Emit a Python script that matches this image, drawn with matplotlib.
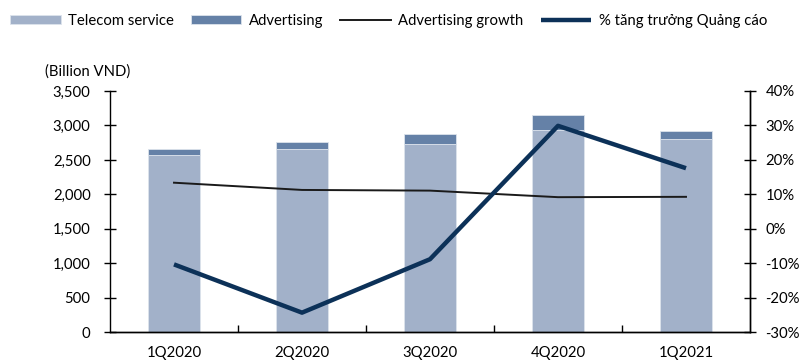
import matplotlib.pyplot as plt
from matplotlib.ticker import FuncFormatter, FixedLocator

plt.rcParams['font.family'] = ['Lato', 'DejaVu Sans']

quarters = ['1Q2020', '2Q2020', '3Q2020', '4Q2020', '1Q2021']
telecom = [2576, 2659, 2736, 2934, 2808]
advertising = [87, 106, 145, 222, 116]
ad_growth = [13.4, 11.3, 11.1, 9.2, 9.3]
ad_growth_vn = [-10.3, -24.3, -8.8, 29.9, 17.6]

c_telecom = '#a2b1c9'
c_ad = '#6581a7'
c_navy = '#0c3158'
fs = 10.7

fig = plt.figure(figsize=(8.04, 3.61), dpi=100)
ax = fig.add_axes([110 / 804, 1 - 332.3 / 361, 640 / 804, 241.3 / 361])
ax2 = ax.twinx()

x = list(range(len(quarters)))
b1 = ax.bar(x, telecom, width=0.4, color=c_telecom, edgecolor='#dde3ec', linewidth=0.6,
            label='Telecom service', zorder=2)
b2 = ax.bar(x, advertising, width=0.4, bottom=telecom, color=c_ad, edgecolor='#dde3ec',
            linewidth=0.6, label='Advertising', zorder=2)

l1, = ax2.plot(x, ad_growth, color='#1a1a1a', lw=1.4, label='Advertising growth')
l2, = ax2.plot(x, ad_growth_vn, color=c_navy, lw=3.2, label='% tăng trưởng Quảng cáo',
               solid_capstyle='butt')

ax.set_xlim(-0.5, 4.5)
ax.set_ylim(0, 3500)
ax2.set_ylim(-30, 40)
ax.set_yticks(range(0, 3501, 500))
ax2.set_yticks(range(-30, 41, 10))
ax.yaxis.set_major_formatter(FuncFormatter(lambda v, p: f'{int(v):,}'))
ax2.yaxis.set_major_formatter(FuncFormatter(lambda v, p: f'{int(v)}%'))

# category labels centered, tick marks on the category boundaries
ax.set_xticks(x)
ax.set_xticklabels(quarters)
ax.tick_params(axis='x', which='major', length=0, pad=10, labelsize=fs)
ax.xaxis.set_minor_locator(FixedLocator([0.5, 1.5, 2.5, 3.5]))
ax.tick_params(axis='x', which='minor', direction='in', length=5, width=1)

ax.tick_params(axis='y', direction='inout', length=8, width=1, pad=10, labelsize=fs)
ax2.tick_params(axis='y', direction='inout', length=8, width=1, pad=7, labelsize=fs)

for a in (ax, ax2):
    a.spines['top'].set_visible(False)
    for s in ('left', 'right', 'bottom'):
        a.spines[s].set_linewidth(1)
        a.spines[s].set_color('black')
ax2.spines['left'].set_visible(False)

fig.text(45 / 804, 1 - 72 / 361, '(Billion VND)', fontsize=fs, va='center', ha='left')

fig.legend(handles=[b1, b2, l1, l2], loc='center left', bbox_to_anchor=(10 / 804, 1 - 21 / 361),
           ncol=4, frameon=False, fontsize=fs, handlelength=3.4, handleheight=0.6,
           handletextpad=0.5, columnspacing=1.15, borderaxespad=0, borderpad=0)

fig.savefig('out.png', dpi=100)
